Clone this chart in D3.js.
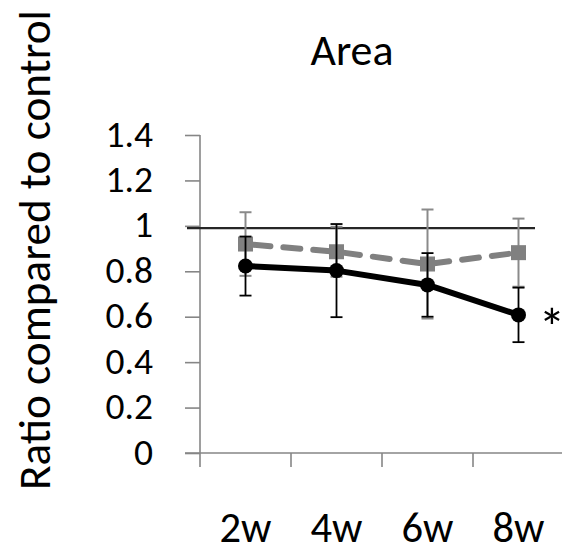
<!DOCTYPE html>
<html><head><meta charset="utf-8">
<script src="https://cdn.jsdelivr.net/npm/d3@7"></script>
<style>html,body{margin:0;padding:0;background:#fff;}svg{display:block;}</style>
</head><body>
<svg id="c" width="564" height="554"></svg>
<script>
const categories = ["2w", "4w", "6w", "8w"];
const blackValues = [0.823, 0.803, 0.74, 0.608];
const blackErrors = [0.13, 0.205, 0.14, 0.12];
const grayValues = [0.92, 0.886, 0.832, 0.882];
const grayErrors = [0.14, 0.11, 0.24, 0.15];
const yTicks = [0, 0.2, 0.4, 0.6, 0.8, 1, 1.2, 1.4];
const yTickLabels = ["0", "0.2", "0.4", "0.6", "0.8", "1", "1.2", "1.4"];
const referenceValue = 0.99;
const titleText = "Area";
const yTitleText = "Ratio compared to control";
const significance = "*";

const FONT = "Carlito, Lato, 'Liberation Sans', sans-serif";
const svg = d3.select("#c");
const x = d3.scaleBand().domain(categories).range([200, 564]).padding(0);
const y = d3.scaleLinear().domain([0, 1.4]).range([453, 135]);

function fit(sel, target) {
  const n = sel.node();
  const w = n.getComputedTextLength();
  const fs = parseFloat(sel.attr("font-size"));
  sel.attr("font-size", (fs * target / w).toFixed(2));
}

// y axis
const yAxis = d3.axisLeft(y).tickValues(yTicks).tickSize(15).tickFormat((d, i) => yTickLabels[i]);
const ga = svg.append("g").attr("transform", "translate(200,0)").call(yAxis);
ga.select(".domain").attr("stroke", "#868686").attr("stroke-width", 1.6).attr("d", `M0,${y(1.4)}V${y(0)}`);
ga.selectAll(".tick line").attr("stroke", "#868686").attr("stroke-width", 1.6);
ga.selectAll(".tick text").attr("x", -47).attr("dy", null).attr("y", 11)
  .attr("font-family", FONT).attr("font-size", 37.5).attr("fill", "#000").attr("text-anchor", "end");

// x axis
const xAxis = d3.axisBottom(x).tickSize(0).tickFormat(d => d);
const gx = svg.append("g").attr("transform", `translate(0,${y(0)})`).call(xAxis);
gx.select(".domain").attr("stroke", "#868686").attr("stroke-width", 1.6).attr("d", "M185,0H562");
gx.selectAll(".tick").each(function(d) {
  d3.select(this).append("line")
    .attr("x1", -x.bandwidth() / 2).attr("x2", -x.bandwidth() / 2)
    .attr("y1", 0).attr("y2", 14).attr("stroke", "#868686").attr("stroke-width", 1.6);
});
gx.selectAll(".tick text").attr("y", 89).attr("dy", null)
  .attr("font-family", FONT).attr("font-size", 44).attr("fill", "#000").attr("text-anchor", "middle");
{
  const ref = gx.selectAll(".tick text").node();
  const scaleF = 52 / ref.getComputedTextLength();
  gx.selectAll(".tick text").attr("font-size", (44 * scaleF).toFixed(2));
}

// reference line
svg.append("line").attr("x1", 187).attr("x2", 535)
  .attr("y1", y(referenceValue)).attr("y2", y(referenceValue))
  .attr("stroke", "#262626").attr("stroke-width", 2.2);

const cx = d => x(d) + x.bandwidth() / 2;

const grayData = categories.map((c, i) => ({c, v: grayValues[i], e: grayErrors[i]}));
const blackData = categories.map((c, i) => ({c, v: blackValues[i], e: blackErrors[i]}));

const line = d3.line().x(d => cx(d.c)).y(d => y(d.v));

function errorBars(data, color, width) {
  const g = svg.append("g");
  data.forEach(d => {
    const px = cx(d.c);
    g.append("line").attr("x1", px).attr("x2", px).attr("y1", y(d.v - d.e)).attr("y2", y(d.v + d.e))
      .attr("stroke", color).attr("stroke-width", width);
    [d.v - d.e, d.v + d.e].forEach(v => {
      g.append("line").attr("x1", px - 6).attr("x2", px + 6).attr("y1", y(v)).attr("y2", y(v))
        .attr("stroke", color).attr("stroke-width", width);
    });
  });
}

errorBars(grayData, "#8a8a8a", 2);
svg.append("path").datum(grayData).attr("d", line).attr("fill", "none")
  .attr("stroke", "#808080").attr("stroke-width", 6).attr("stroke-dasharray", "17 13")
  .attr("stroke-linecap", "round").attr("stroke-dashoffset", -8);
svg.append("g").selectAll("rect").data(grayData).join("rect")
  .attr("x", d => cx(d.c) - 7.5).attr("y", d => y(d.v) - 7.5)
  .attr("width", 15).attr("height", 15).attr("fill", "#808080");

errorBars(blackData, "#000", 1.8);
svg.append("path").datum(blackData).attr("d", line).attr("fill", "none")
  .attr("stroke", "#000").attr("stroke-width", 6).attr("stroke-linejoin", "round");
svg.append("g").selectAll("circle").data(blackData).join("circle")
  .attr("cx", d => cx(d.c)).attr("cy", d => y(d.v)).attr("r", 7.5).attr("fill", "#000");

// title
const t = svg.append("text").attr("x", 352).attr("y", 65).attr("text-anchor", "middle")
  .attr("font-family", FONT).attr("font-size", 44).attr("fill", "#000").text(titleText);
fit(t, 83);

// y title
const yt = svg.append("text").attr("transform", "translate(50,250) rotate(-90)").attr("text-anchor", "middle")
  .attr("font-family", FONT).attr("font-size", 44).attr("fill", "#000").text(yTitleText);
fit(yt, 480);

// significance
svg.append("text").attr("x", 552).attr("y", 346).attr("text-anchor", "middle")
  .attr("font-family", FONT).attr("font-size", 54).attr("fill", "#000").text(significance);
</script>
</body></html>
